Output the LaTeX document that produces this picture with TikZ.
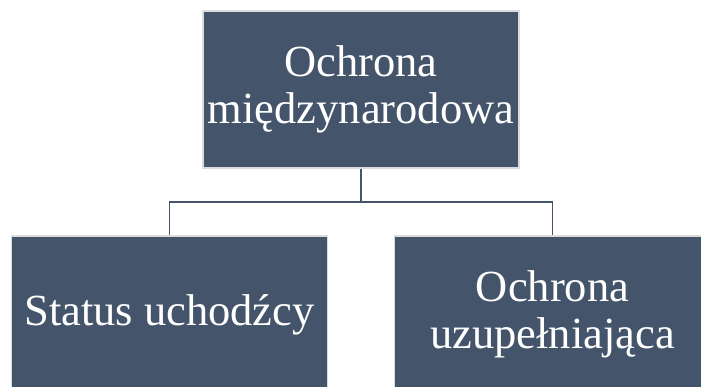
\documentclass[tikz,border=0pt]{standalone}
\usepackage{fontspec}
\setmainfont{Liberation Serif}
\definecolor{slateblue}{HTML}{44546A}
\definecolor{boxedge}{HTML}{DCDCDC}
\tikzset{
  orgbox/.style={draw=boxedge, line width=1.5pt, fill=slateblue, text=white,
    minimum width=316pt, minimum height=157pt, inner sep=0pt, align=center,
    font=\fontsize{44.5}{47}\selectfont},
  link/.style={draw=slateblue, line width=1.6pt}
}
\begin{document}
\begin{tikzpicture}[x=1pt, y=-1pt]
        \useasboundingbox (0,0) rectangle (701,387);

        % Top level
        \node[orgbox] (ochrona) at (361,89.5) {Ochrona\\międzynarodowa};

        % Second level
        \node[orgbox] (status) at (169.5,314.5) {Status uchodźcy};
        \node[orgbox] (uzup) at (552.5,314.5) {Ochrona\\uzupełniająca};

        % Connectors
        \draw[link] (ochrona.south) -- ++(0,33) -| (status.north);
        \draw[link] (ochrona.south) -- ++(0,33) -| (uzup.north);
    \end{tikzpicture}
\end{document}
